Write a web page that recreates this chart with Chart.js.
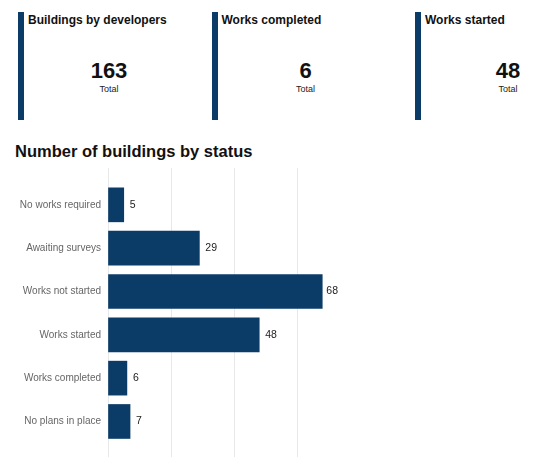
<!DOCTYPE html>
<html lang="en">
<head>
    <meta charset="UTF-8">
    <title>Buildings by status</title>
    <script src="https://cdn.jsdelivr.net/npm/chart.js"></script>
    <style>
        html, body {
            margin: 0;
            padding: 0;
            width: 544px;
            height: 463px;
            overflow: hidden;
            background: #fff;
            font-family: "Liberation Sans", Arial, sans-serif;
        }
        .card {
            position: absolute;
            top: 11.5px;
            height: 108.5px;
            border-left: 6px solid #0b3c68;
        }
        .card .title {
            position: absolute;
            left: 4px;
            top: 1px;
            font-size: 12px;
            font-weight: bold;
            color: #111;
            white-space: nowrap;
        }
        .card .value {
            position: absolute;
            left: 0;
            right: 0;
            top: 46px;
            text-align: center;
            font-size: 22px;
            font-weight: bold;
            color: #111;
        }
        .card .note {
            position: absolute;
            left: 0;
            right: 0;
            top: 72px;
            text-align: center;
            font-size: 9px;
            color: #222;
        }
        h2 {
            position: absolute;
            left: 15px;
            top: 142px;
            margin: 0;
            font-size: 16.5px;
            font-weight: bold;
            color: #111;
        }
        .chart-box {
            position: absolute;
            left: 0;
            top: 160px;
            width: 544px;
            height: 303px;
        }
    </style>
</head>
<body>
    <div id="cards"></div>
    <h2>Number of buildings by status</h2>
    <div class="chart-box">
        <canvas id="statusChart"></canvas>
    </div>

    <script>
        // KPI tiles
        const kpiTitles = ['Buildings by developers', 'Works completed', 'Works started'];
        const kpiValues = [163, 6, 48];
        const kpiNote = 'Total';

        // bar chart
        const categories = ['No works required', 'Awaiting surveys', 'Works not started',
                            'Works started', 'Works completed', 'No plans in place'];
        const buildings = [5, 29, 68, 48, 6, 7];

        // card placement (bar left edge, content width)
        const cardLefts = [18, 211.5, 415];
        const cardWidths = [170, 176, 174];

        const cards = document.getElementById('cards');
        kpiTitles.forEach((t, i) => {
            const c = document.createElement('div');
            c.className = 'card';
            c.style.left = cardLefts[i] + 'px';
            c.style.width = cardWidths[i] + 'px';
            c.innerHTML = '<div class="title">' + t + '</div>' +
                          '<div class="value">' + kpiValues[i] + '</div>' +
                          '<div class="note">' + kpiNote + '</div>';
            cards.appendChild(c);
        });

        const FONT = '"Liberation Sans", Arial, sans-serif';

        // value next to each bar, kept inside the plot area
        const valueLabels = {
            id: 'valueLabels',
            afterDatasetsDraw(chart) {
                const ctx = chart.ctx;
                const meta = chart.getDatasetMeta(0);
                ctx.save();
                ctx.font = '10.5px ' + FONT;
                ctx.fillStyle = '#222';
                ctx.textBaseline = 'middle';
                meta.data.forEach((bar, i) => {
                    const txt = String(buildings[i]);
                    const w = ctx.measureText(txt).width;
                    const x = Math.min(bar.x + 6, chart.chartArea.right - w);
                    ctx.fillText(txt, x, bar.y);
                });
                ctx.restore();
            }
        };

        const ctx = document.getElementById('statusChart').getContext('2d');
        const statusChart = new Chart(ctx, {
            type: 'bar',
            data: {
                datasets: [{
                    data: buildings.map((v, i) => ({ x: v, y: i })),
                    backgroundColor: '#0b3c68',
                    borderWidth: 0,
                    barThickness: 34
                }]
            },
            options: {
                indexAxis: 'y',
                responsive: true,
                maintainAspectRatio: false,
                animation: false,
                layout: {
                    padding: { top: 8, bottom: 6, left: 0, right: 206 }
                },
                plugins: {
                    legend: { display: false },
                    tooltip: { enabled: false }
                },
                scales: {
                    x: {
                        min: 0,
                        max: 73,
                        ticks: { display: false, stepSize: 20 },
                        afterBuildTicks: (scale) => {
                            scale.ticks = scale.ticks.filter(t => t.value % 20 === 0);
                        },
                        grid: { color: '#e8e8e8', lineWidth: 1, drawTicks: false },
                        border: { display: false }
                    },
                    y: {
                        type: 'linear',
                        reverse: true,
                        offset: false,
                        min: -0.85,
                        max: 5.82,
                        afterBuildTicks: (scale) => {
                            scale.ticks = categories.map((c, i) => ({ value: i }));
                        },
                        afterFit: (scale) => {
                            scale.width = 108;
                            scale.paddingTop = 0;
                            scale.paddingBottom = 0;
                        },
                        ticks: {
                            autoSkip: false,
                            color: '#666',
                            padding: 7,
                            font: { family: FONT, size: 10 },
                            callback: (v) => categories[v]
                        },
                        grid: { display: false, drawTicks: false },
                        border: { display: false }
                    }
                }
            },
            plugins: [valueLabels]
        });
    </script>
</body>
</html>
